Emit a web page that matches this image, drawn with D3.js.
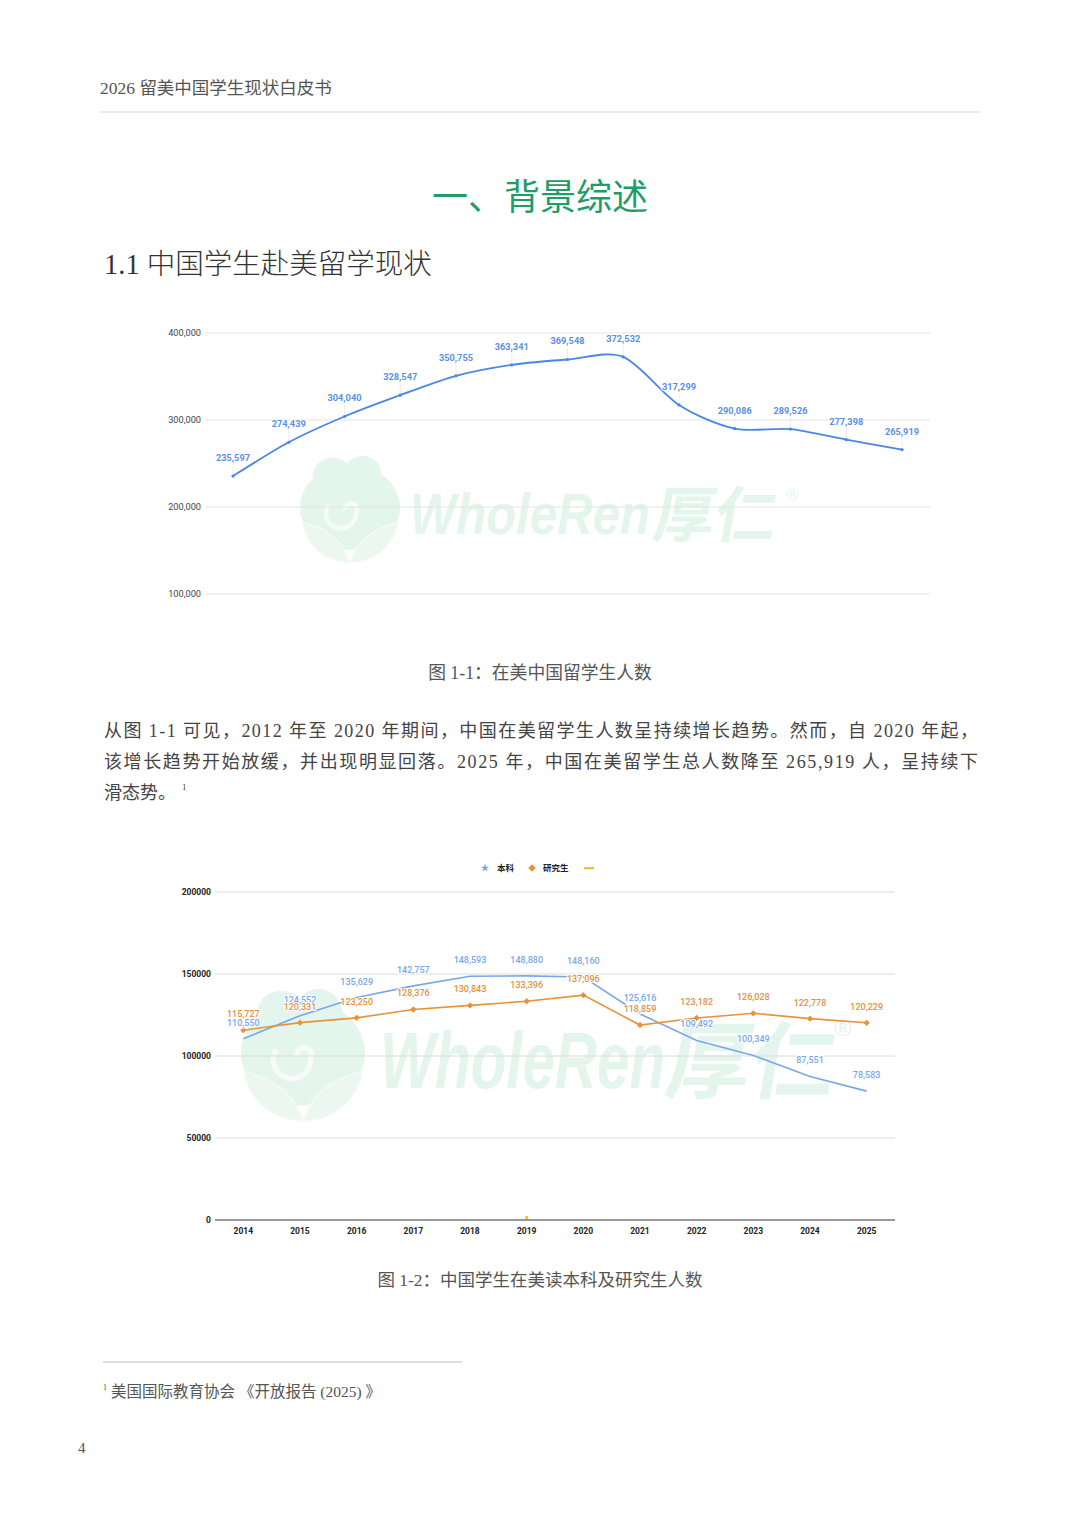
<!DOCTYPE html>
<html>
<head>
<meta charset="utf-8">
<script src="https://cdn.jsdelivr.net/npm/d3@7"></script>
<style>
  body { margin: 0; background: #fff; }
  svg { display: block; }
</style>
</head>
<body>
<svg id="page" width="1080" height="1527"></svg>
<script>
// chart 1: total Chinese students in the US
const totalYears = ['2013', '2014', '2015', '2016', '2017', '2018', '2019', '2020', '2021', '2022', '2023', '2024', '2025']
const totalValues = [235597, 274439, 304040, 328547, 350755, 363341, 369548, 372532, 317299, 290086, 289526, 277398, 265919]
const totalTicks = [100000, 200000, 300000, 400000]

// chart 2: undergraduate vs graduate
const levelYears = ['2014', '2015', '2016', '2017', '2018', '2019', '2020', '2021', '2022', '2023', '2024', '2025']
const undergrad = [110550, 124552, 135629, 142757, 148593, 148880, 148160, 125616, 109492, 100349, 87551, 78583]
const graduate = [115727, 120331, 123250, 128376, 130843, 133396, 137096, 118859, 123182, 126028, 122778, 120229]
const otherSeries = [null, null, null, null, null, 0, null, null, null, null, null, null]
const levelTicks = [0, 50000, 100000, 150000, 200000]
const legendNames = ['本科', '研究生', '']

const serif = '"Liberation Serif", "Noto Sans CJK SC", serif'
const sans = 'Roboto, "Liberation Sans", "Noto Sans CJK SC", sans-serif'

let svg = d3.select('#page')

// ---------- page text ----------
svg.append('text')
    .attr('x', 100).attr('y', 94)
    .attr('font-family', serif).attr('font-size', 17.5).attr('fill', '#555')
    .text('2026 留美中国学生现状白皮书')

svg.append('line')
    .attr('x1', 100).attr('x2', 980).attr('y1', 112).attr('y2', 112)
    .attr('stroke', '#e4e4e4').attr('stroke-width', 1.5)

svg.append('text')
    .attr('x', 540).attr('y', 210)
    .attr('text-anchor', 'middle')
    .attr('font-family', '"Noto Sans CJK SC", sans-serif').attr('font-size', 36)
    .attr('fill', '#1f9d68')
    .text('一、背景综述')

svg.append('text')
    .attr('x', 104).attr('y', 274)
    .attr('font-family', serif).attr('font-size', 28.5).attr('fill', '#333')
    .attr('font-weight', 300)
    .text('1.1 中国学生赴美留学现状')

svg.append('text')
    .attr('x', 540).attr('y', 679)
    .attr('text-anchor', 'middle')
    .attr('font-family', serif).attr('font-size', 17.8).attr('fill', '#555')
    .text('图 1-1：在美中国留学生人数')

let paraLines = [
    '从图 1-1 可见，2012 年至 2020 年期间，中国在美留学生人数呈持续增长趋势。然而，自 2020 年起，',
    '该增长趋势开始放缓，并出现明显回落。2025 年，中国在美留学生总人数降至 265,919 人，呈持续下'
]
paraLines.forEach((line, i) => {
    svg.append('text')
        .attr('x', 104).attr('y', 737 + i * 31)
        .attr('font-family', serif).attr('font-size', 18).attr('fill', '#444')
        .attr('textLength', 874).attr('lengthAdjust', 'spacing')
        .text(line)
})
let lastLine = svg.append('text')
    .attr('x', 104).attr('y', 799)
    .attr('font-family', serif).attr('font-size', 18).attr('fill', '#444')
lastLine.append('tspan').text('滑态势。')
lastLine.append('tspan').attr('dx', 6).attr('dy', -9).attr('font-size', 9).text('1')

svg.append('text')
    .attr('x', 540).attr('y', 1286)
    .attr('text-anchor', 'middle')
    .attr('font-family', serif).attr('font-size', 17.5).attr('fill', '#555')
    .text('图 1-2：中国学生在美读本科及研究生人数')

svg.append('line')
    .attr('x1', 103).attr('x2', 462).attr('y1', 1362).attr('y2', 1362)
    .attr('stroke', '#bbb').attr('stroke-width', 1)

let foot = svg.append('text')
    .attr('x', 103).attr('y', 1397)
    .attr('font-family', serif).attr('font-size', 15.5).attr('fill', '#555')
foot.append('tspan').attr('font-size', 8).attr('dy', -7).text('1')
foot.append('tspan').attr('dx', 4).attr('dy', 7).text('美国国际教育协会 《开放报告 (2025) 》')

svg.append('text')
    .attr('x', 78).attr('y', 1453)
    .attr('font-family', serif).attr('font-size', 15).attr('fill', '#555')
    .text('4')

// ---------- watermark ----------
function drawWatermark(cx, cy, r, textX, textW, fontSize, cjkX, regX, regY) {
    let g = svg.append('g').attr('opacity', 0.9)
    let col = '#e2f4ec'
    // cloud-ish blob
    g.append('ellipse').attr('cx', cx).attr('cy', cy - r * 0.15).attr('rx', r).attr('ry', r * 0.85).attr('fill', col)
    g.append('circle').attr('cx', cx - r * 0.35).attr('cy', cy - r * 0.75).attr('r', r * 0.4).attr('fill', col)
    g.append('circle').attr('cx', cx + r * 0.25).attr('cy', cy - r * 0.8).attr('r', r * 0.38).attr('fill', col)
    // spiral
    g.append('path')
        .attr('d', `M${cx - r * 0.1},${cy - r * 0.1} a${r * 0.12},${r * 0.12} 0 1,1 ${r * 0.22},${r * 0.05} a${r * 0.3},${r * 0.3} 0 1,1 ${-r * 0.55},${-r * 0.15}`)
        .attr('fill', 'none').attr('stroke', '#f4fbf8').attr('stroke-width', r * 0.09)
    // leaves
    for (let s of [-1, 1]) {
        g.append('path')
            .attr('d', `M${cx},${cy + r * 0.95} C${cx + s * r * 0.2},${cy + r * 0.3} ${cx + s * r * 0.8},${cy + r * 0.2} ${cx + s * r * 0.95},${cy + r * 0.15} C${cx + s * r * 0.9},${cy + r * 0.6} ${cx + s * r * 0.5},${cy + r * 0.95} ${cx},${cy + r * 0.95} Z`)
            .attr('fill', '#eaf7f1').attr('stroke', '#f6fcf9').attr('stroke-width', 1.2)
    }
    g.append('text')
        .attr('x', textX).attr('y', cy + fontSize * 0.32)
        .attr('font-family', '"Liberation Sans", sans-serif')
        .attr('font-weight', 'bold').attr('font-style', 'italic')
        .attr('font-size', fontSize).attr('fill', col)
        .attr('textLength', textW).attr('lengthAdjust', 'spacingAndGlyphs')
        .text('WholeRen')
    g.append('text')
        .attr('x', cjkX).attr('y', cy + fontSize * 0.38)
        .attr('font-family', '"Noto Sans CJK SC", sans-serif')
        .attr('font-weight', 'bold')
        .attr('font-size', fontSize * 1.05).attr('fill', col)
        .attr('transform', `skewX(-10) translate(${(cy) * Math.tan(10 * Math.PI / 180)},0)`)
        .text('厚仁')
    g.append('text')
        .attr('x', regX).attr('y', regY)
        .attr('font-family', '"Liberation Sans", sans-serif')
        .attr('font-size', fontSize * 0.3).attr('fill', col)
        .text('®')
}

drawWatermark(350, 515, 50, 410, 240, 58, 655, 786, 500)
drawWatermark(303, 1062, 62, 380, 285, 80, 668, 834, 1036)

// ---------- chart 1 ----------
let x1 = d3.scalePoint().domain(totalYears).range([233, 902])
let y1 = d3.scaleLinear().domain([100000, 400000]).range([594, 333])
let fmt = d3.format(',')

let c1 = svg.append('g')
c1.selectAll('.grid1')
    .data(totalTicks)
    .enter()
    .append('line')
    .attr('x1', 205).attr('x2', 930)
    .attr('y1', (d) => y1(d)).attr('y2', (d) => y1(d))
    .attr('stroke', '#e3e3e3').attr('stroke-width', 1.2)

c1.selectAll('.tick1')
    .data(totalTicks)
    .enter()
    .append('text')
    .attr('x', 201).attr('y', (d) => y1(d) + 3)
    .attr('text-anchor', 'end')
    .attr('font-family', sans).attr('font-size', 9.2).attr('fill', '#444')
    .text((d) => fmt(d))

let totalPts = totalYears.map((yr, i) => ({ year: yr, value: totalValues[i] }))

// leader lines
c1.selectAll('.lead1')
    .data(totalPts)
    .enter()
    .append('line')
    .attr('x1', (d) => x1(d.year)).attr('x2', (d) => x1(d.year))
    .attr('y1', (d) => y1(d.value) - 12).attr('y2', (d) => y1(d.value))
    .attr('stroke', '#e6e6e6').attr('stroke-width', 0.8)

c1.append('path')
    .datum(totalPts)
    .attr('fill', 'none')
    .attr('stroke', '#4a86e8').attr('stroke-width', 1.8)
    .attr('d', d3.line()
        .x((d) => x1(d.year))
        .y((d) => y1(d.value))
        .curve(d3.curveCardinal.tension(0.15)))

c1.selectAll('.dot1')
    .data(totalPts)
    .enter()
    .append('circle')
    .attr('cx', (d) => x1(d.year)).attr('cy', (d) => y1(d.value))
    .attr('r', 1.6).attr('fill', '#4a86e8')

c1.selectAll('.lab1')
    .data(totalPts)
    .enter()
    .append('text')
    .attr('x', (d) => x1(d.year)).attr('y', (d) => y1(d.value) - 15)
    .attr('text-anchor', 'middle')
    .attr('font-family', sans).attr('font-size', 9.2).attr('font-weight', 'bold')
    .attr('fill', '#5b8fe6')
    .attr('stroke', '#fff').attr('stroke-width', 2.5).attr('paint-order', 'stroke')
    .text((d) => fmt(d.value))

// ---------- chart 2 ----------
let x2 = d3.scalePoint().domain(levelYears).range([215, 895]).padding(0.5)
let y2 = d3.scaleLinear().domain([0, 200000]).range([1220, 892])

let c2 = svg.append('g')
c2.selectAll('.grid2')
    .data(levelTicks.filter((d) => d > 0))
    .enter()
    .append('line')
    .attr('x1', 215).attr('x2', 895)
    .attr('y1', (d) => y2(d)).attr('y2', (d) => y2(d))
    .attr('stroke', '#dcdcdc').attr('stroke-width', 1)

c2.append('line')
    .attr('x1', 215).attr('x2', 895)
    .attr('y1', y2(0)).attr('y2', y2(0))
    .attr('stroke', '#999').attr('stroke-width', 1.8)

c2.selectAll('.tick2')
    .data(levelTicks)
    .enter()
    .append('text')
    .attr('x', 211).attr('y', (d) => y2(d) + 3)
    .attr('text-anchor', 'end')
    .attr('font-family', sans).attr('font-size', 8.5).attr('font-weight', 'bold').attr('fill', '#222')
    .text((d) => d)

c2.selectAll('.xlab2')
    .data(levelYears)
    .enter()
    .append('text')
    .attr('x', (d) => x2(d)).attr('y', 1234)
    .attr('text-anchor', 'middle')
    .attr('font-family', sans).attr('font-size', 8.5).attr('font-weight', 'bold').attr('fill', '#222')
    .text((d) => d)

let ugPts = levelYears.map((yr, i) => ({ year: yr, value: undergrad[i] }))
let grPts = levelYears.map((yr, i) => ({ year: yr, value: graduate[i] }))
let otPts = levelYears.map((yr, i) => ({ year: yr, value: otherSeries[i] })).filter((d) => d.value !== null)

let blue = '#78a7e8'
let orange = '#e8923a'
let yellow = '#f4c430'

let line2 = d3.line().x((d) => x2(d.year)).y((d) => y2(d.value))

c2.append('path').datum(ugPts)
    .attr('fill', 'none').attr('stroke', blue).attr('stroke-width', 1.6)
    .attr('d', line2)

c2.append('path').datum(grPts)
    .attr('fill', 'none').attr('stroke', orange).attr('stroke-width', 1.6)
    .attr('d', line2)

c2.selectAll('.dia')
    .data(grPts)
    .enter()
    .append('path')
    .attr('transform', (d) => 'translate(' + x2(d.year) + ',' + y2(d.value) + ') rotate(45)')
    .attr('d', d3.symbol(d3.symbolSquare, 20)())
    .attr('fill', orange)

c2.selectAll('.oth')
    .data(otPts)
    .enter()
    .append('rect')
    .attr('x', (d) => x2(d.year) - 1.5).attr('y', (d) => y2(d.value) - 4)
    .attr('width', 3).attr('height', 3)
    .attr('fill', yellow)

function pointLabels(pts, color) {
    c2.selectAll(null)
        .data(pts)
        .enter()
        .append('text')
        .attr('x', (d) => x2(d.year)).attr('y', (d) => y2(d.value) - 13)
        .attr('text-anchor', 'middle')
        .attr('font-family', sans).attr('font-size', 9).attr('font-weight', 500)
        .attr('fill', color)
        .attr('stroke', '#fff').attr('stroke-width', 2).attr('paint-order', 'stroke')
        .text((d) => fmt(d.value))
}
pointLabels(ugPts, blue)
pointLabels(grPts, '#e0913d')

// legend
let legend = svg.append('g').attr('transform', 'translate(0,868)')
legend.append('path')
    .attr('transform', 'translate(485,0)')
    .attr('d', d3.symbol(d3.symbolStar, 22)())
    .attr('fill', blue)
legend.append('text')
    .attr('x', 497).attr('y', 3)
    .attr('font-family', '"Noto Sans CJK SC", sans-serif').attr('font-size', 8.5).attr('font-weight', 'bold').attr('fill', '#222')
    .text(legendNames[0])
legend.append('path')
    .attr('transform', 'translate(532,0) rotate(45)')
    .attr('d', d3.symbol(d3.symbolSquare, 28)())
    .attr('fill', orange)
legend.append('text')
    .attr('x', 543).attr('y', 3)
    .attr('font-family', '"Noto Sans CJK SC", sans-serif').attr('font-size', 8.5).attr('font-weight', 'bold').attr('fill', '#222')
    .text(legendNames[1])
legend.append('rect')
    .attr('x', 584).attr('y', -1).attr('width', 10).attr('height', 2.4)
    .attr('fill', yellow)
</script>
</body>
</html>
